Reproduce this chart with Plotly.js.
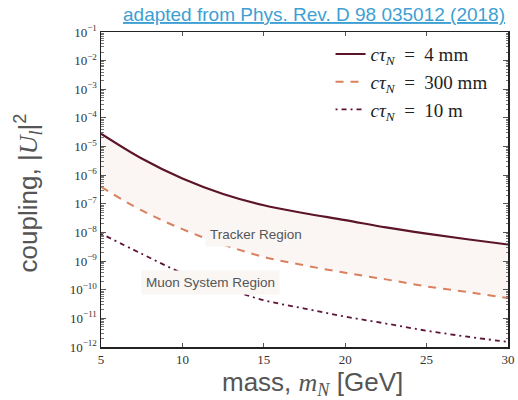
<!DOCTYPE html>
<html><head><meta charset="utf-8">
<script src="https://cdn.plot.ly/plotly-3.0.1.min.js"></script>
<style>html,body{margin:0;padding:0;background:#fff;}#chart{width:518px;height:400px;}</style>
</head><body><div id="chart"></div>
<script>
const massGeV = [5, 7.5, 10, 12.5, 15, 17.5, 20, 22.5, 25, 27.5, 30];
const coupling4mm   = [2.8e-5, 3.8e-6, 7.6e-7, 2.2e-7, 8.9e-8, 4.7e-8, 2.7e-8, 1.5e-8, 9.1e-9, 5.8e-9, 3.8e-9];
const coupling300mm = [3.9e-7, 5.9e-8, 1.3e-8, 3.8e-9, 1.4e-9, 7.1e-10, 3.9e-10, 2.3e-10, 1.3e-10, 8.3e-11, 5.1e-11];
const coupling10m   = [9.1e-9, 1.8e-9, 3.8e-10, 1.2e-10, 4.3e-11, 2.2e-11, 1.15e-11, 6.6e-12, 3.7e-12, 2.3e-12, 1.5e-12];
const seriesNames = ['<i>cτ</i><sub><i>N</i></sub>  =  4 mm', '<i>cτ</i><sub><i>N</i></sub>  =  300 mm', '<i>cτ</i><sub><i>N</i></sub>  =  10 m'];
const regionLabels = ['Tracker Region', 'Muon System Region'];
const xTickVals = [5, 10, 15, 20, 25, 30];
const yTickVals = [1e-12,1e-11,1e-10,1e-9,1e-8,1e-7,1e-6,1e-5,1e-4,1e-3,1e-2,1e-1];
const yTickText = yTickVals.map(v => '10<sup>' + String(Math.round(Math.log10(v))).replace('-', '−') + '</sup>');

const serif = 'Liberation Serif, DejaVu Serif, serif';
const sans = 'Liberation Sans, Arial, sans-serif';

const traces = [
  {x: massGeV, y: coupling300mm, mode: 'lines', line: {width: 0, color: 'rgba(0,0,0,0)', shape: 'spline'}, showlegend: false, hoverinfo: 'skip'},
  {x: massGeV, y: coupling4mm, mode: 'lines', fill: 'tonexty', fillcolor: '#fbf6f4', line: {width: 0, color: 'rgba(0,0,0,0)', shape: 'spline'}, showlegend: false, hoverinfo: 'skip'},
  {x: massGeV, y: coupling4mm, name: seriesNames[0], mode: 'lines', line: {color: '#5c1428', width: 2.2, shape: 'spline'}},
  {x: massGeV, y: coupling300mm, name: seriesNames[1], mode: 'lines', line: {color: '#d9805f', width: 2, dash: '8px,7px', shape: 'spline'}},
  {x: massGeV, y: coupling10m, name: seriesNames[2], mode: 'lines', line: {color: '#5c1438', width: 1.8, dash: '2px,4px,5px,4px', shape: 'spline'}}
];

const layout = {
  width: 518, height: 400,
  margin: {l: 101, r: 10, t: 32, b: 53},
  paper_bgcolor: '#fff', plot_bgcolor: '#fff',
  showlegend: true,
  legend: {x: 0.962, y: 0.99, xanchor: 'right', yanchor: 'top', bgcolor: 'rgba(255,255,255,0)', traceorder: 'normal',
           font: {family: serif, size: 19, color: '#222'}, tracegroupgap: 0},
  xaxis: {range: [5, 30], tickvals: xTickVals, ticks: 'inside', ticklen: 4, tickcolor: '#555',
          showline: true, linecolor: '#222', linewidth: 1.5, mirror: 'ticks', showgrid: false, zeroline: false,
          tickfont: {family: serif, size: 13, color: '#333'}},
  yaxis: {type: 'log', range: [-12, -1], tickvals: yTickVals, ticktext: yTickText, ticks: 'inside', ticklen: 5, tickcolor: '#555',
          showline: true, linecolor: '#222', linewidth: 1.5, mirror: 'ticks', showgrid: false, zeroline: false,
          tickfont: {family: serif, size: 13, color: '#333'},
          minor: {ticks: 'inside', ticklen: 2.5, tickcolor: '#777', dtick: 'D1'}},
  annotations: [
    {text: '<u>adapted from Phys. Rev. D 98 035012 (2018)</u>', xref: 'paper', yref: 'paper',
     x: (314 - 101) / 407, y: 1 + (32 - 15) / 315, yanchor: 'middle', showarrow: false,
     font: {family: sans, size: 19, color: '#3e9fd3'}},
    {text: regionLabels[0], xref: 'x', yref: 'y', x: 14.5, y: -8.06, showarrow: false,
     bgcolor: '#f9f6f4', borderpad: 4, font: {family: sans, size: 13.5, color: '#555'}},
    {text: regionLabels[1], xref: 'x', yref: 'y', x: 11.7, y: -9.74, showarrow: false,
     bgcolor: '#f9f6f4', borderpad: 4, font: {family: sans, size: 13.5, color: '#555'}},
    {text: 'mass, <i><span style="font-family:Liberation Serif">m</span></i><sub><i><span style="font-family:Liberation Serif">N</span></i></sub> [GeV]',
     xref: 'paper', yref: 'paper', x: 0.52, y: -0.117, yanchor: 'middle', showarrow: false,
     font: {family: sans, size: 26, color: '#555'}},
    {text: 'coupling, |<i><span style="font-family:Liberation Serif">U</span></i><sub><i><span style="font-family:Liberation Serif">l</span></i></sub>|<sup>2</sup>',
     xref: 'paper', yref: 'paper', x: -0.18, y: 0.49, xanchor: 'center', textangle: -90, showarrow: false,
     font: {family: sans, size: 26, color: '#555'}}
  ]
};
Plotly.newPlot('chart', traces, layout, {displayModeBar: false, staticPlot: true});
</script></body></html>
